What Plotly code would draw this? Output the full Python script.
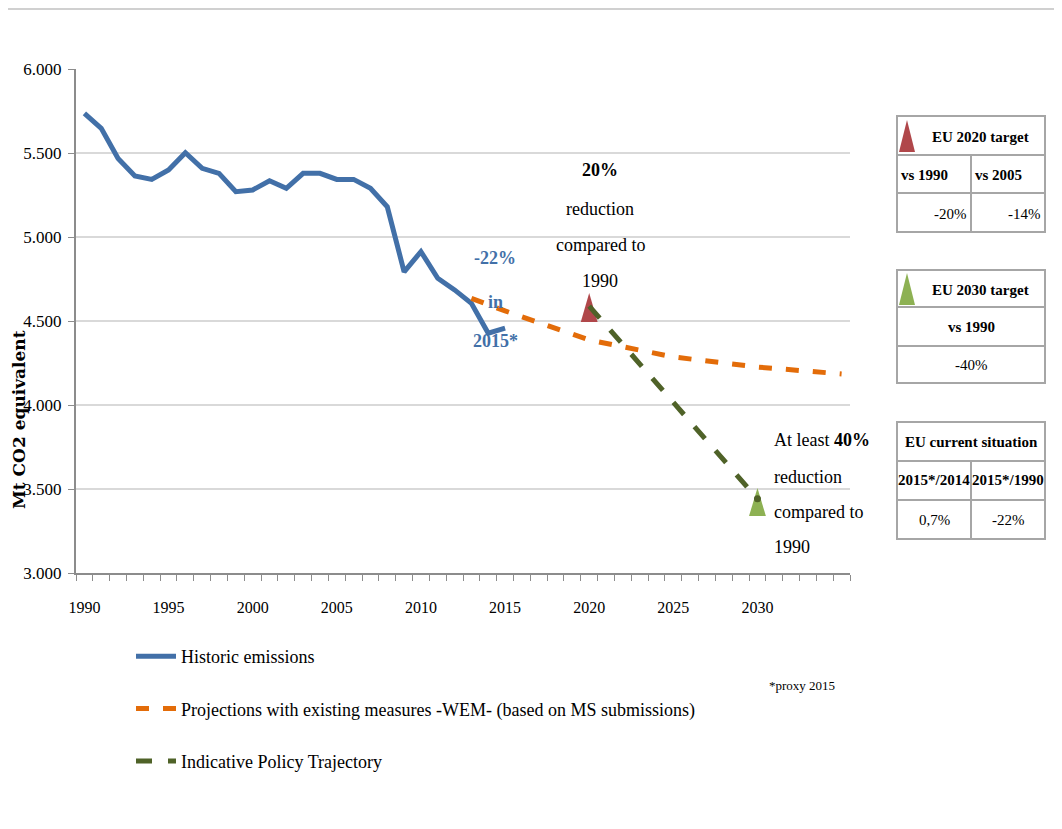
import plotly.graph_objects as go

# ---------------- data ----------------
hist_years = list(range(1990, 2016))
hist_values = [5736, 5647, 5468, 5363, 5343, 5399, 5502, 5409, 5379, 5270,
               5280, 5335, 5290, 5379, 5379, 5343, 5343, 5290, 5180, 4793,
               4913, 4754, 4685, 4605, 4427, 4457]

wem_years = [2013, 2015, 2020, 2025, 2030, 2035]
wem_values = [4635, 4560, 4387, 4286, 4226, 4185]

traj_years = [2020, 2030]
traj_values = [4589, 3442]

target_years = [2020, 2030]
target_values = [4589, 3442]

y_ticks = [3000, 3500, 4000, 4500, 5000, 5500, 6000]
x_labels = [1990, 1995, 2000, 2005, 2010, 2015, 2020, 2025, 2030]

# ---------------- styling ----------------
FONT = "Liberation Serif"
BLUE = "#4270A8"
ORANGE = "#E36C09"
DGREEN = "#4F6228"
RED_TRI = "#B0474A"
GREEN_TRI = "#8DB153"
GRID = "#D9D9D9"
AXIS = "#8C8C8C"
BORDER = "#A6A6A6"

PAGE_W, PAGE_H = 1062, 829
OFF = 8  # page body margin
W, H = PAGE_W - OFF, PAGE_H - OFF
# plot area in page pixels
L, R, T, B = 76, 850, 69, 573


def X(px):
    return (px - L) / (R - L)


def Y(py):
    return (B - py) / (B - T)


fig = go.Figure()

fig.add_trace(go.Scatter(
    x=hist_years, y=hist_values, mode="lines", name="Historic emissions",
    legendgroup="a", line=dict(color=BLUE, width=5)))

# target triangles (drawn from the target values)
tri_colors = [RED_TRI, GREEN_TRI]
tri_up = [78, 64]
tri_down = [95, 103]
for i, (yr, v) in enumerate(zip(target_years, target_values)):
    fig.add_trace(go.Scatter(
        x=[yr - 0.5, yr, yr + 0.5, yr - 0.5],
        y=[v - tri_down[i], v + tri_up[i], v - tri_down[i], v - tri_down[i]],
        mode="lines", fill="toself", fillcolor=tri_colors[i],
        line=dict(width=0, color=tri_colors[i]), showlegend=False,
        hoverinfo="skip"))

fig.add_trace(go.Scatter(
    x=wem_years, y=wem_values, mode="lines",
    name="Projections with existing measures -WEM- (based on MS submissions)",
    legendgroup="b", line=dict(color=ORANGE, width=5, dash="13px,14px")))

fig.add_trace(go.Scatter(
    x=traj_years, y=traj_values, mode="lines",
    name="Indicative Policy Trajectory",
    legendgroup="c", line=dict(color=DGREEN, width=5, dash="16px,16px")))

fig.add_trace(go.Scatter(
    x=[traj_years[-1]], y=[traj_values[-1]], mode="markers",
    marker=dict(color=DGREEN, size=7), showlegend=False, hoverinfo="skip"))

annotations = []


def txt(x, y, text, size=18, color="black", bold=False, xanchor="center", font=FONT):
    if bold:
        text = "<b>" + text + "</b>"
    annotations.append(dict(
        x=X(x), y=Y(y), xref="paper", yref="paper", text=text, showarrow=False,
        xanchor=xanchor, yanchor="middle",
        font=dict(family=font, size=size, color=color)))


# chart annotations
txt(600, 170, "20%", bold=True)
txt(600, 209, "reduction")
txt(600, 245, "compared to")
txt(600, 281, "1990")

txt(495, 258, "-22%", bold=True, color=BLUE)
txt(495, 302, "in", bold=True, color=BLUE)
txt(495, 341, "2015*", bold=True, color=BLUE)

txt(772, 440, "At least <b>40%</b>", xanchor="left")
txt(772, 477, "reduction", xanchor="left")
txt(772, 512, "compared to", xanchor="left")
txt(772, 547, "1990", xanchor="left")

txt(802, 685, "*proxy 2015", size=13)

# y-axis title
annotations.append(dict(
    x=X(19), y=Y(420), xref="paper", yref="paper", text="<b>Mt CO2 equivalent</b>",
    showarrow=False, textangle=-90, xanchor="center", yanchor="middle",
    font=dict(family="DejaVu Serif", size=17, color="black")))

shapes = []


def box(x0, y0, x1, y1):
    shapes.append(dict(type="rect", xref="paper", yref="paper",
                       x0=X(x0), y0=Y(y0), x1=X(x1), y1=Y(y1),
                       line=dict(color=BORDER, width=2), fillcolor="rgba(0,0,0,0)"))


def hline(x0, x1, y):
    shapes.append(dict(type="line", xref="paper", yref="paper",
                       x0=X(x0), x1=X(x1), y0=Y(y), y1=Y(y),
                       line=dict(color=BORDER, width=2)))


def vline(x, y0, y1):
    shapes.append(dict(type="line", xref="paper", yref="paper",
                       x0=X(x), x1=X(x), y0=Y(y0), y1=Y(y1),
                       line=dict(color=BORDER, width=2)))


def tri_icon(cx, ytop, ybot, half, color):
    path = "M {} {} L {} {} L {} {} Z".format(
        X(cx - half), Y(ybot), X(cx), Y(ytop), X(cx + half), Y(ybot))
    shapes.append(dict(type="path", xref="paper", yref="paper", path=path,
                       fillcolor=color, line=dict(width=0)))


TX0, TX1, TXM = 897, 1045, 971

# table 1
box(TX0, 116, TX1, 232)
hline(TX0, TX1, 155)
hline(TX0, TX1, 193)
vline(TXM, 155, 232)
tri_icon(907, 120, 152, 8, RED_TRI)
txt(980, 137, "EU 2020 target", size=15, bold=True)
txt(899, 175, "vs 1990", size=15, bold=True, xanchor="left")
txt(973, 175, "vs 2005", size=15, bold=True, xanchor="left")
txt(969, 214, "-20%", size=15, xanchor="right")
txt(1043, 214, "-14%", size=15, xanchor="right")

# table 2
box(TX0, 270, TX1, 383)
hline(TX0, TX1, 307)
hline(TX0, TX1, 346)
tri_icon(907, 273, 305, 8, GREEN_TRI)
txt(980, 290, "EU 2030 target", size=15, bold=True)
txt(971, 327, "vs 1990", size=15, bold=True)
txt(971, 365, "-40%", size=15)

# table 3
box(TX0, 422, TX1, 539)
hline(TX0, TX1, 461)
hline(TX0, TX1, 500)
vline(TXM, 461, 539)
txt(971, 442, "EU current situation", size=15, bold=True)
txt(934, 480, "2015*/2014", size=15, bold=True)
txt(1008, 480, "2015*/1990", size=15, bold=True)
txt(934, 520, "0,7%", size=15)
txt(1008, 520, "-22%", size=15)

# top border line of the frame
shapes.append(dict(type="line", xref="paper", yref="paper",
                   x0=X(0), x1=X(PAGE_W), y0=Y(9), y1=Y(9),
                   line=dict(color="#D0D0D0", width=2)))

fig.update_layout(
    width=W, height=H,
    margin=dict(l=L - OFF, r=W - (R - OFF), t=T - OFF, b=H - (B - OFF)),
    paper_bgcolor="white", plot_bgcolor="white",
    separators=",.",
    font=dict(family=FONT, size=16, color="black"),
    showlegend=True,
    legend=dict(
        x=X(131), y=Y(638), xanchor="left", yanchor="top",
        traceorder="grouped", tracegroupgap=26,
        font=dict(family=FONT, size=18, color="black"),
        bgcolor="rgba(0,0,0,0)", itemwidth=40),
    annotations=annotations,
    shapes=shapes,
)

fig.update_xaxes(
    range=[1989.5, 2035.5], tickvals=x_labels, ticks="", showgrid=False,
    showline=True, linecolor=AXIS, linewidth=2, zeroline=False,
    ticklabelstandoff=19,
    tickfont=dict(family=FONT, size=16, color="black"),
    minor=dict(tick0=1989.5, dtick=1, ticks="outside", ticklen=6,
               tickcolor=AXIS, tickwidth=1, showgrid=False),
)

fig.update_yaxes(
    range=[3000, 6000], tickvals=y_ticks, tickformat=",d",
    showgrid=True, gridcolor=GRID, gridwidth=2,
    showline=True, linecolor=AXIS, linewidth=2, zeroline=False,
    ticks="outside", ticklen=6, tickcolor=AXIS,
    ticklabelstandoff=3,
    tickfont=dict(family=FONT, size=17, color="black"),
)

fig.write_html("out.html")
